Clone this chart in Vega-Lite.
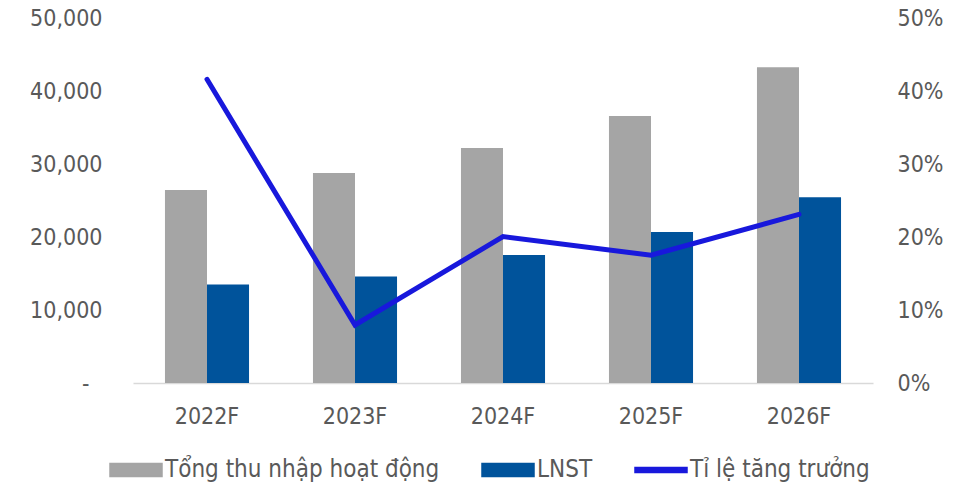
{
  "$schema": "https://vega.github.io/schema/vega-lite/v6.json",
  "width": 740,
  "height": 365,
  "autosize": {"type": "none"},
  "padding": {"left": 133, "top": 18, "right": 101, "bottom": 101},
  "background": "white",
  "config": {
    "view": {"stroke": null},
    "font": "DejaVu Sans Condensed",
    "axis": {"labelFont": "DejaVu Sans Condensed", "labelFontSize": 23, "labelColor": "#595959", "ticks": false, "grid": false, "domain": false, "title": null}
  },
  "data": {
    "values": [
      {"year": "2022F", "series": "Tổng thu nhập hoạt động", "value": 26440},
      {"year": "2023F", "series": "Tổng thu nhập hoạt động", "value": 28770},
      {"year": "2024F", "series": "Tổng thu nhập hoạt động", "value": 32190},
      {"year": "2025F", "series": "Tổng thu nhập hoạt động", "value": 36580},
      {"year": "2026F", "series": "Tổng thu nhập hoạt động", "value": 43250},
      {"year": "2022F", "series": "LNST", "value": 13500},
      {"year": "2023F", "series": "LNST", "value": 14600},
      {"year": "2024F", "series": "LNST", "value": 17530},
      {"year": "2025F", "series": "LNST", "value": 20690},
      {"year": "2026F", "series": "LNST", "value": 25450},
      {"year": "2022F", "series": "Tỉ lệ tăng trưởng", "value": 0.416},
      {"year": "2023F", "series": "Tỉ lệ tăng trưởng", "value": 0.0795},
      {"year": "2024F", "series": "Tỉ lệ tăng trưởng", "value": 0.2005},
      {"year": "2025F", "series": "Tỉ lệ tăng trưởng", "value": 0.175},
      {"year": "2026F", "series": "Tỉ lệ tăng trưởng", "value": 0.231}
    ]
  },
  "encoding": {
    "x": {
      "field": "year", "type": "nominal", "sort": null,
      "scale": {"paddingInner": 0.432, "paddingOuter": 0.216},
      "axis": {"labelAngle": 0, "domain": true, "domainColor": "#D9D9D9", "domainWidth": 1.5, "labelPadding": 22}
    }
  },
  "layer": [
    {
      "transform": [{"filter": "datum.series != 'Tỉ lệ tăng trưởng'"}],
      "mark": {"type": "bar"},
      "encoding": {
        "xOffset": {"field": "series", "type": "nominal", "sort": ["Tổng thu nhập hoạt động", "LNST"], "scale": {"paddingInner": 0, "paddingOuter": 0}},
        "y": {
          "field": "value", "type": "quantitative",
          "scale": {"domain": [0, 50000], "nice": false},
          "axis": {
            "orient": "left", "values": [0, 10000, 20000, 30000, 40000, 50000], "labelPadding": 31,
            "labelExpr": "datum.value == 0 ? '-\u00a0\u00a0\u200b' : format(datum.value, ',')"
          }
        },
        "color": {
          "field": "series", "type": "nominal",
          "scale": {"domain": ["Tổng thu nhập hoạt động", "LNST", "Tỉ lệ tăng trưởng"], "range": ["#A5A5A5", "#00539B", "#1818DC"]},
          "legend": {
            "orient": "none", "legendX": -24, "legendY": 425,
            "direction": "horizontal", "title": null,
            "labelFont": "DejaVu Sans Condensed", "labelFontSize": 24, "labelColor": "#595959",
            "labelLimit": 500, "labelBaseline": "middle",
            "symbolSize": 2704, "labelOffset": 2, "columnPadding": 39,
            "encode": {
              "symbols": {
                "update": {
                  "shape": {"signal": "datum.value == 'Tỉ lệ tăng trưởng' ? 'M-1,-0.1H1V0.1H-1Z' : 'M-1,-0.25H1V0.25H-1Z'"},
                  "fill": {"scale": "color", "field": "value"},
                  "stroke": {"value": "transparent"},
                  "opacity": {"value": 1},
                  "fillOpacity": {"value": 1}
                }
              }
            }
          }
        }
      }
    },
    {
      "transform": [{"filter": "datum.series == 'Tỉ lệ tăng trưởng'"}],
      "mark": {"type": "line", "strokeWidth": 5, "strokeCap": "round", "strokeJoin": "miter"},
      "encoding": {
        "y": {
          "field": "value", "type": "quantitative",
          "scale": {"domain": [0, 0.5], "nice": false},
          "axis": {"orient": "right", "values": [0, 0.1, 0.2, 0.3, 0.4, 0.5], "format": ".0%", "labelPadding": 24}
        },
        "color": {"field": "series", "type": "nominal"}
      }
    }
  ],
  "resolve": {"scale": {"y": "independent"}}
}
